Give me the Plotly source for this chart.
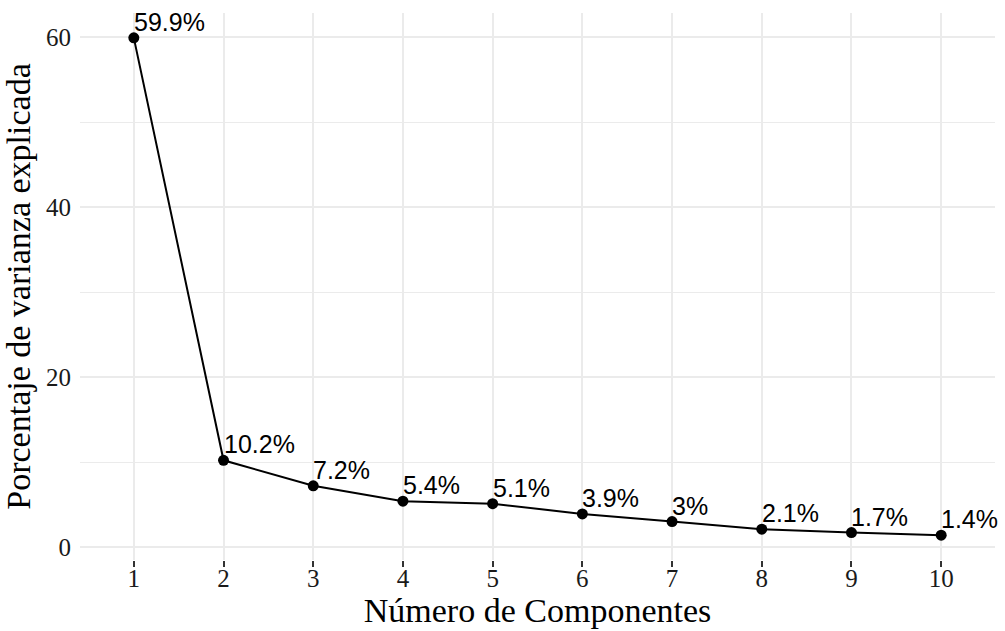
import plotly.graph_objects as go

components = [1, 2, 3, 4, 5, 6, 7, 8, 9, 10]
variance_pct = [59.9, 10.2, 7.2, 5.4, 5.1, 3.9, 3.0, 2.1, 1.7, 1.4]
labels = ["59.9%", "10.2%", "7.2%", "5.4%", "5.1%", "3.9%", "3%", "2.1%", "1.7%", "1.4%"]
x_title = "Número de Componentes"
y_title = "Porcentaje de varianza explicada"

fig = go.Figure()
fig.add_trace(go.Scatter(
    x=components, y=variance_pct, mode="lines+markers",
    line=dict(color="black", width=2),
    marker=dict(color="black", size=11),
    showlegend=False, hoverinfo="skip",
))

for xv, yv, lab in zip(components, variance_pct, labels):
    fig.add_annotation(
        x=xv, y=yv, text=lab, showarrow=False,
        xanchor="left", yanchor="bottom", xshift=-2, yshift=0,
        font=dict(family="Liberation Sans", size=25, color="black"),
    )

ymin = 1.4 - 0.05 * (59.9 - 1.4)
ymax = 59.9 + 0.05 * (59.9 - 1.4)

fig.update_layout(
    width=1005, height=631,
    margin=dict(l=80, r=10, t=13, b=71),
    plot_bgcolor="white", paper_bgcolor="white",
    font=dict(family="Liberation Serif", color="black"),
    xaxis=dict(
        range=[0.4, 10.6], tickmode="array", tickvals=components,
        ticktext=[str(c) for c in components],
        showgrid=True, gridcolor="#EBEBEB", gridwidth=2,
        zeroline=False, showline=False, automargin=False,
        ticks="outside", ticklen=6, tickwidth=2, tickcolor="#333333",
        ticklabelstandoff=-10,
        tickfont=dict(family="Liberation Serif", size=25, color="#1a1a1a"),
        title=dict(text=x_title, font=dict(family="Liberation Serif", size=34, color="black"), standoff=2),
    ),
    yaxis=dict(
        range=[ymin, ymax], tickmode="array", tickvals=[0, 20, 40, 60],
        showgrid=True, gridcolor="#EBEBEB", gridwidth=2,
        zeroline=False, showline=False, ticks="", automargin=False,
        ticklabelstandoff=8,
        minor=dict(tickmode="array", tickvals=[10, 30, 50], showgrid=True,
                   gridcolor="#EBEBEB", gridwidth=1, ticks=""),
        tickfont=dict(family="Liberation Serif", size=25, color="#1a1a1a"),
        title=dict(text=y_title, font=dict(family="Liberation Serif", size=34, color="black"), standoff=6),
    ),
)

fig.write_html("out.html", config={"displayModeBar": False},
               post_script="document.body.style.margin='0';document.body.style.overflow='hidden';")
